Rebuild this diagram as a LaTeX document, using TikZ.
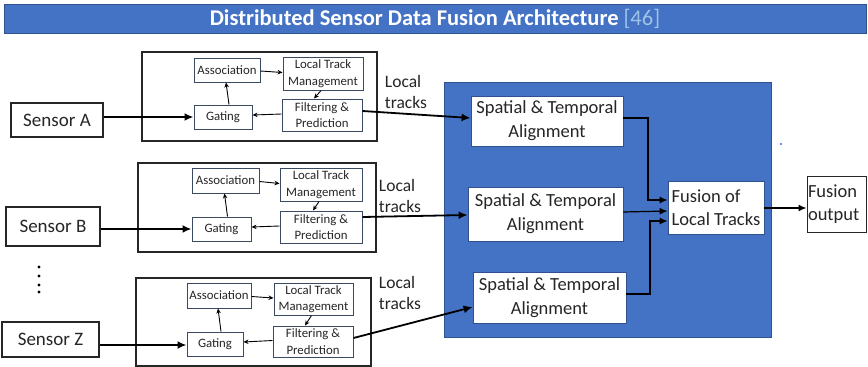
\documentclass[tikz,border=0pt]{standalone}
\usepackage{fontspec}
\setmainfont{Carlito}
\usetikzlibrary{arrows.meta}
\definecolor{barblue}{HTML}{4472C4}
\definecolor{baredge}{HTML}{2F528F}
\definecolor{refblue}{HTML}{9DC3E6}
\definecolor{inkgray}{HTML}{262626}
\definecolor{slate}{HTML}{3B4A63}

% box placed by its corners: [style]{name}{x1}{y1}{x2}{y2}{text}
\newcommand\placebox[7][]{%
  \node[#1, minimum width={#5-#3}, minimum height={#6-#4}] (#2)
    at ({(#3+#5)/2},{(#4+#6)/2}) {#7};}

\tikzset{
  sensorbox/.style={draw=inkgray, line width=1.1pt, fill=white, inner sep=1pt,
    text=inkgray, font=\fontsize{19}{21}\selectfont},
  groupbox/.style={draw=inkgray, line width=1.4pt, inner sep=0pt},
  stepbox/.style={draw=slate, line width=1pt, fill=white, inner sep=0.5pt, align=center,
    text=inkgray, font=\fontsize{12.8}{16.5}\selectfont},
  alignbox/.style={draw=baredge, line width=0.8pt, fill=white, inner sep=1pt, align=center,
    text=inkgray, font=\fontsize{18.5}{24}\selectfont},
  fusebox/.style={draw=baredge, line width=0.8pt, fill=white, inner sep=0.5pt, align=left,
    text=inkgray, font=\fontsize{18.5}{23.5}\selectfont},
  trackslabel/.style={align=left, text=inkgray, inner sep=0pt,
    font=\fontsize{17.5}{20.5}\selectfont},
  feed/.style={line width=2.2pt, draw=black, -{Latex[length=9pt,width=8pt]}},
  inner/.style={line width=0.9pt, draw=black, -{Stealth[length=5pt,width=4.5pt]}},
  merge/.style={line width=1.2pt, draw=black, -{Latex[length=8pt,width=7pt]}},
}

\begin{document}
\begin{tikzpicture}[x=1pt,y=-1pt]
\useasboundingbox (0,0) rectangle (868,367);
\fill[white] (0,0) rectangle (868,367);

% title bar
\node[fill=barblue, draw=baredge, line width=0.8pt, minimum width=862, minimum height=29,
  inner sep=0pt, text=white, font=\fontsize{22.5}{24}\bfseries] (title) at (435,18.5)
  {Distributed Sensor Data Fusion Architecture {\mdseries\color{refblue}[46]}};

% central fusion block
\placebox[fill=barblue, draw=baredge, line width=1pt]{core}{444}{82}{771}{337}{}
\fill[barblue] (781,144) circle (1.2);

% sensors
\placebox[sensorbox]{senA}{11}{103}{103}{137}{Sensor A}
\placebox[sensorbox]{senB}{6}{207}{100}{246}{Sensor B}
\placebox[sensorbox]{senZ}{2}{322}{99}{357}{Sensor Z}
\foreach \yy in {267,276,285,292} \fill[black] (39,\yy) circle (1.6);

% local tracker groups
\placebox[groupbox]{grpA}{142}{52}{377}{141}{}
\placebox[groupbox]{grpB}{138}{163}{376}{252}{}
\placebox[groupbox]{grpZ}{136}{278}{371}{366}{}

% group A
\placebox[stepbox]{assA}{194}{58}{260}{82}{Association}
\placebox[stepbox]{ltmA}{283}{57}{363}{90}{Local Track\\Management}
\placebox[stepbox]{gatA}{194}{105}{252}{129}{Gating}
\placebox[stepbox]{filA}{282}{99}{362}{131}{Filtering \&\\Prediction}
% group B
\placebox[stepbox]{assB}{192}{168}{259}{193}{Association}
\placebox[stepbox]{ltmB}{280}{168}{362}{201}{Local Track\\Management}
\placebox[stepbox]{gatB}{192}{217}{251}{241}{Gating}
\placebox[stepbox]{filB}{280}{211}{362}{243}{Filtering \&\\Prediction}
% group Z
\placebox[stepbox]{assZ}{187}{283}{251}{308}{Association}
\placebox[stepbox]{ltmZ}{274}{283}{353}{315}{Local Track\\Management}
\placebox[stepbox]{gatZ}{187}{332}{243}{356}{Gating}
\placebox[stepbox]{filZ}{273}{326}{353}{357}{Filtering \&\\Prediction}

% labels
\node[trackslabel] (lblA) at (406,92) {Local\\tracks};
\node[trackslabel] (lblB) at (400,196) {Local\\tracks};
\node[trackslabel] (lblZ) at (400,293) {Local\\tracks};

% alignment and fusion boxes
\placebox[alignbox]{stA}{471}{96}{623}{146}{Spatial \& Temporal\\Alignment}
\placebox[alignbox]{stB}{468}{187}{623}{241}{Spatial \& Temporal\\Alignment}
\placebox[alignbox]{stZ}{473}{272}{626}{323}{Spatial \& Temporal\\Alignment}
\placebox[fusebox]{fus}{668}{181}{764}{234}{Fusion of\\Local Tracks}
\placebox[fusebox, draw=inkgray, line width=1pt, text width=57]{out}{807}{176}{866}{232}{Fusion\\output}

% sensor feeds into gating
\draw[feed] (senA.east |- 0,117) -- (gatA.west |- 0,117);
\draw[feed] (senB.east |- 0,229) -- (gatB.west |- 0,229);
\draw[feed] (senZ.east |- 0,345) -- (gatZ.west |- 0,345);

% tracker loops
\foreach \g in {A,B,Z}{
  \draw[inner] ([xshift=6pt]gat\g.north) -- ([xshift=-1pt]ass\g.south);
  \draw[inner] ([yshift=-1pt]ass\g.east) -- ([yshift=1pt]ltm\g.west);
  \draw[inner] ([xshift=-2pt]ltm\g.south) -- ([xshift=-8pt]fil\g.north);
  \draw[inner] ([yshift=1pt]fil\g.west) -- ([yshift=2pt]gat\g.east);
}

% local tracks to alignment
\draw[feed, line width=1.8pt] (filA.east |- 0,111) -- (stA.west |- 0,118);
\draw[feed, line width=1.8pt] (filB.east |- 0,217) -- (stB.west |- 0,215);
\draw[feed, line width=1.8pt] (filZ.east |- 0,338) -- (stZ.west |- 0,307);

% alignment to fusion
\draw[merge] (stA.east |- 0,118) -| (648,200) -- (fus.west |- 0,200);
\draw[merge] (stB.east |- 0,212) -- (fus.west |- 0,211);
\draw[merge] (stZ.east |- 0,294) -| (650,221) -- (fus.west |- 0,221);
\draw[merge] (fus.east |- 0,208) -- (out.west |- 0,208);
\end{tikzpicture}
\end{document}
